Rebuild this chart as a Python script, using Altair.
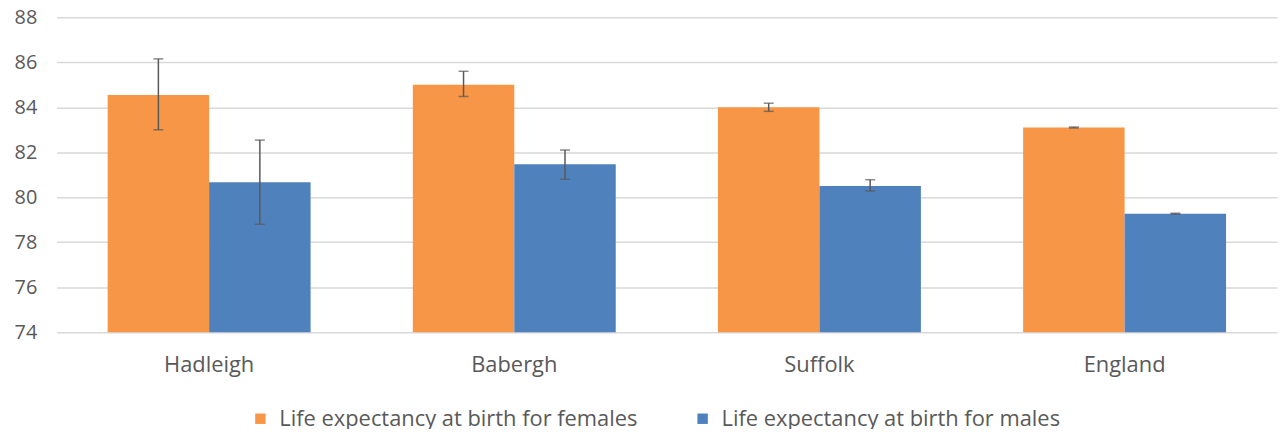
import altair as alt
import pandas as pd

regions = ["Hadleigh", "Babergh", "Suffolk", "England"]
series = ["Life expectancy at birth for females", "Life expectancy at birth for males"]
female = [84.55, 85.0, 84.0, 83.1]
male = [80.67, 81.47, 80.5, 79.27]
female_lo = [83.0, 84.48, 83.82, 83.08]
female_hi = [86.15, 85.6, 84.18, 83.12]
male_lo = [78.8, 80.8, 80.28, 79.25]
male_hi = [82.54, 82.1, 80.78, 79.29]

rows = []
for i, r in enumerate(regions):
    rows.append(dict(region=r, sex=series[0], value=female[i], lo=female_lo[i], hi=female_hi[i]))
    rows.append(dict(region=r, sex=series[1], value=male[i], lo=male_lo[i], hi=male_hi[i]))
df = pd.DataFrame(rows)

FONT = "Open Sans"
GREY = "#595959"

x = alt.X("region:N", sort=regions, title=None,
          scale=alt.Scale(paddingInner=0.335, paddingOuter=0.167),
          axis=alt.Axis(labelAngle=0, labelFontSize=22, labelColor=GREY, labelFont=FONT,
                        ticks=False, domain=False, labelPadding=22))
xo = alt.XOffset("sex:N", sort=series)
yscale = alt.Scale(domain=[74, 88], zero=False, nice=False)

bars = alt.Chart(df).mark_bar().encode(
    x=x, xOffset=xo,
    y=alt.Y("value:Q", scale=yscale, title=None,
            axis=alt.Axis(values=[74, 76, 78, 80, 82, 84, 86, 88], labelFontSize=20,
                          labelColor=GREY, labelFont=FONT, ticks=False, domain=False,
                          gridColor="#d9d9d9", gridWidth=1.5, labelPadding=20)),
    y2=alt.datum(74),
    color=alt.Color("sex:N", sort=series,
                    scale=alt.Scale(domain=series, range=["#F79646", "#4F81BD"]),
                    legend=alt.Legend(title=None, orient="none", direction="horizontal",
                                      legendX=194, legendY=393, symbolType="square",
                                      symbolSize=110, symbolStrokeWidth=0,
                                      labelFontSize=22, labelColor=GREY, labelFont=FONT,
                                      labelLimit=700, columnPadding=54, labelOffset=8)),
)

rule = alt.Chart(df).mark_rule(color=GREY, strokeWidth=1.5).encode(
    x=x, xOffset=xo, y=alt.Y("lo:Q", scale=yscale), y2="hi:Q")
cap_lo = alt.Chart(df).mark_tick(color=GREY, thickness=1.5, size=10).encode(
    x=x, xOffset=xo, y=alt.Y("lo:Q", scale=yscale))
cap_hi = alt.Chart(df).mark_tick(color=GREY, thickness=1.5, size=10).encode(
    x=x, xOffset=xo, y=alt.Y("hi:Q", scale=yscale))

chart = alt.layer(bars, rule, cap_lo, cap_hi).properties(
    width=1228, height=317,
    autosize=alt.AutoSizeParams(type="none"),
    padding={"left": 49, "top": 8, "right": 2, "bottom": 96},
).configure_view(stroke=None).configure_axisX(grid=False)

chart.save("out.html", embed_options={"renderer": "svg", "actions": False})
